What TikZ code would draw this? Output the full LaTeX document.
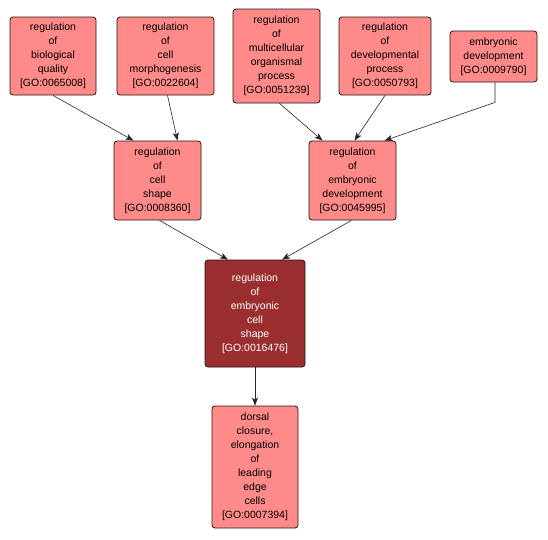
\documentclass[tikz,border=0pt]{standalone}
\usepackage{fontspec}
\setmainfont{Liberation Sans}
\usetikzlibrary{calc,arrows.meta}
\definecolor{termpink}{RGB}{255,138,138}
\definecolor{termfocus}{RGB}{155,47,47}
\definecolor{termline}{RGB}{40,20,20}

\begin{document}
\begin{tikzpicture}[x=1pt, y=-1pt,
		term/.style={draw=termline, line width=0.8pt, fill=termpink, rounded corners=3pt,
			inner sep=0pt, align=center, font=\fontsize{10.5}{14}\selectfont},
		focus/.style={term, fill=termfocus, text=white},
		isa/.style={draw=black!85, line width=0.6pt, -{Stealth[length=8pt,width=6pt,inset=2pt]}}]
			%%%%% START %%%%%
			\useasboundingbox (0, 0) rectangle (548, 539);
			
			\node[term, minimum width=86, minimum height=78] (biolqual) at (53, 56) {regulation\\of\\biological\\quality\\{[GO:0065008]}};
			\node[term, minimum width=97, minimum height=78] (cellmorph) at (165.5, 56) {regulation\\of\\cell\\morphogenesis\\{[GO:0022604]}};
			\node[term, minimum width=87, minimum height=94] (multicell) at (276.5, 56) {regulation\\of\\multicellular\\organismal\\process\\{[GO:0051239]}};
			\node[term, minimum width=92, minimum height=78] (devproc) at (385, 56) {regulation\\of\\developmental\\process\\{[GO:0050793]}};
			\node[term, minimum width=87, minimum height=51] (embdev) at (493.5, 56.5) {embryonic\\development\\{[GO:0009790]}};
			
			\node[term, minimum width=87, minimum height=79] (cellshape) at (157.5, 180.5) {regulation\\of\\cell\\shape\\{[GO:0008360]}};
			\node[term, minimum width=87, minimum height=79] (regembdev) at (352.5, 180.5) {regulation\\of\\embryonic\\development\\{[GO:0045995]}};
			
			\node[focus, minimum width=100, minimum height=107] (embcellshape) at (255, 313.5) {regulation\\of\\embryonic\\cell\\shape\\{[GO:0016476]}};
			
			\node[term, minimum width=86, minimum height=122] (dorsal) at (255, 467) {dorsal\\closure,\\elongation\\of\\leading\\edge\\cells\\{[GO:0007394]}};
			
			\draw[isa] (biolqual.south) -- ($(cellshape.north)+(-24, 0)$);
			\draw[isa] ($(cellmorph.south)+(2, 0)$) -- ($(cellshape.north)+(20, 0)$);
			\draw[isa] ($(multicell.south)+(3, 0)$) -- ($(regembdev.north)+(-30, 0)$);
			\draw[isa] (devproc.south) -- ($(regembdev.north)+(2, 0)$);
			\draw[isa] ($(embdev.south)+(1.5, 0)$) -- ++(0, 20) -- ($(regembdev.north)+(32, 0)$);
			
			\draw[isa] ($(cellshape.south)+(2, 0)$) -- ($(embcellshape.north)+(-27, 0)$);
			\draw[isa] ($(regembdev.south)+(-1, 0)$) -- ($(embcellshape.north)+(27, 0)$);
			
			\draw[isa] (embcellshape) -- (dorsal);
			%%%%% END %%%%%
		\end{tikzpicture}
\end{document}
